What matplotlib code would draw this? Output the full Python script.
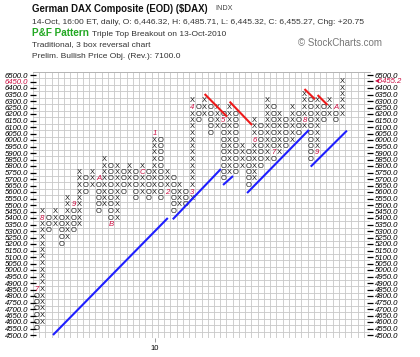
import numpy as np
import matplotlib.pyplot as plt

plt.rcParams['font.family'] = ['Liberation Sans', 'DejaVu Sans']

## P&F data: 50 pt boxes, 3 box reversal

box = 50
col_type = list("OX" * 25)
col_low = [4550, 4600, 5300, 5350, 5200, 5250, 5300, 5350, 5600, 5650,
           5450, 5500, 5350, 5400, 5600, 5650, 5550, 5600, 5550, 5600,
           5550, 5600, 5450, 5500, 5500, 5550, 6150, 6200, 6050, 6100,
           5700, 5750, 5750, 5800, 5650, 5700, 5800, 5850, 5850, 5900,
           5950, 6000, 6050, 6100, 5850, 5900, 6150, 6200, 6150, 6200]
col_high = [4850, 5450, 5400, 5450, 5400, 5550, 5500, 5750, 5700, 5750,
            5700, 5850, 5800, 5800, 5750, 5800, 5750, 5800, 5750, 6050,
            6000, 5750, 5700, 5650, 5600, 6300, 6250, 6300, 6250, 6250,
            6200, 6250, 6200, 5950, 5900, 6150, 6100, 6300, 6250, 6200,
            6150, 6250, 6200, 6350, 6300, 6300, 6250, 6300, 6250, 6450]

# month markers (column, price, label)
month_col = [0, 1, 6, 10, 12, 17, 19, 21, 25, 25, 30, 35, 38, 43, 45, 48]
month_price = [4850, 5400, 5500, 5700, 5350, 5750, 6050, 5600, 5600, 6250,
               6150, 6000, 5900, 6150, 5900, 6250]
month_label = ["7", "8", "9", "A", "B", "C", "1", "2", "3", "4",
               "5", "6", "7", "8", "9", "A"]

# trend lines as (col, price) end points
support_lines = [[(2.7, 4500), (21.1, 5400)],
                 [(21.9, 5390), (29.6, 5777)],
                 [(29.95, 5654), (31.55, 5723)],
                 [(33.8, 5592), (43.7, 6077)],
                 [(44.0, 5795), (49.8, 6072)]]
resist_lines = [[(27.0, 6354), (30.6, 6179)],
                [(31.0, 6295), (34.6, 6115)],
                [(43.0, 6392), (44.7, 6313)],
                [(45.1, 6346), (46.7, 6269)]]

last_price = 6455.2
price_levels = np.arange(4500, 6501, 50)
year_col = 19
year_label = "10"

## Figure

W, H = 420, 357
fig = plt.figure(figsize=(W / 100, H / 100), dpi=100)
fig.patch.set_facecolor('white')

def fx(px):
    return px / W

def fy(py):
    return 1 - py / H

ax = fig.add_axes([fx(33), fy(338.25), fx(370) - fx(33), fy(71.75) - fy(338.25)])
ax.set_xlim(-0.5, 53.5)
ax.set_ylim(4475, 6525)

# grid at box boundaries
ax.set_xticks(np.arange(-0.5, 53.6, 1), minor=True)
ax.set_yticks(np.arange(4475, 6526, 50), minor=True)
ax.grid(which='minor', color='#c8c8c8', linewidth=0.6)
ax.tick_params(which='minor', length=0)
for s in ax.spines.values():
    s.set_visible(False)
ax.spines['top'].set_visible(True)
ax.spines['top'].set_color('#b0b0b0')
ax.spines['top'].set_linewidth(0.6)

# left price labels
red = '#cc1144'
ax.set_yticks(price_levels)
ax.set_yticklabels(["%.1f" % p for p in price_levels], fontsize=5.6, style='italic')
for lab, p in zip(ax.get_yticklabels(), price_levels):
    if p == 6450:
        lab.set_color(red)
ax.tick_params(axis='y', direction='inout', length=4, width=0.9, pad=1.5)

# right price labels
ax2 = ax.twinx()
ax2.set_ylim(ax.get_ylim())
right_lbls = []
for p in price_levels:
    if p == 6450:
        right_lbls.append("\u25c2%.1f" % last_price)
    else:
        right_lbls.append("%.1f" % p)
right_pos = [last_price if p == 6450 else p for p in price_levels]
ax2.set_yticks(right_pos)
ax2.set_yticklabels(right_lbls, fontsize=5.6, style='italic')
for lab, p in zip(ax2.get_yticklabels(), price_levels):
    if p == 6450:
        lab.set_color(red)
ax2.tick_params(axis='y', direction='inout', length=4, width=0.9, pad=1.5)
for s in ax2.spines.values():
    s.set_visible(False)

# x axis: year tick
ax.set_xticks([year_col])
ax.set_xticklabels([year_label], fontsize=5.5)
ax.tick_params(axis='x', length=3, width=0.6, color='#888888', pad=2)

# X and O boxes
marks = {(c, p): l for c, p, l in zip(month_col, month_price, month_label)}
for i, (t, lo, hi) in enumerate(zip(col_type, col_low, col_high)):
    for p in range(lo, hi + 1, box):
        if (i, p) in marks:
            ax.text(i, p, marks[(i, p)], color=red, fontsize=5.6, style='italic',
                    ha='center', va='center', zorder=4)
        else:
            ax.text(i, p, t, color='#1a1a1a', fontsize=5.4,
                    ha='center', va='center', zorder=4)

# trend lines
for seg in support_lines:
    xs, ys = zip(*seg)
    ax.plot(xs, ys, color='#1f1fff', linewidth=1.5, zorder=5, solid_capstyle='butt')
for seg in resist_lines:
    xs, ys = zip(*seg)
    ax.plot(xs, ys, color='#ee1a1a', linewidth=1.5, zorder=5, solid_capstyle='butt')

## Header text

fig.text(fx(32), fy(8.5), "German DAX Composite (EOD) ($DAX)", fontsize=6.9,
         fontweight='bold', va='center', color='#111111')
fig.text(fx(215), fy(8.5), "INDX", fontsize=5.2, va='center', color='#444444')
fig.text(fx(32), fy(22.5),
         "14-Oct, 16:00 ET, daily, O: 6,446.32, H: 6,485.71, L: 6,445.32, C: 6,455.27, Chg: +20.75",
         fontsize=6.1, va='center', color='#333333')
fig.text(fx(32), fy(33.5), "P&F Pattern", fontsize=7.2, fontweight='bold',
         va='center', color='#22a822')
fig.text(fx(92), fy(34), "Triple Top Breakout on 13-Oct-2010", fontsize=6.0,
         va='center', color='#333333')
fig.text(fx(32), fy(45), "Traditional, 3 box reversal chart", fontsize=6.0,
         va='center', color='#333333')
fig.text(fx(32), fy(56.5), "Prelim. Bullish Price Obj. (Rev.): 7100.0", fontsize=6.0,
         va='center', color='#333333')
fig.text(fx(298), fy(43.5), "\u00a9 StockCharts.com", fontsize=7, va='center',
         color='#777777')

fig.savefig('out.png', dpi=100)
